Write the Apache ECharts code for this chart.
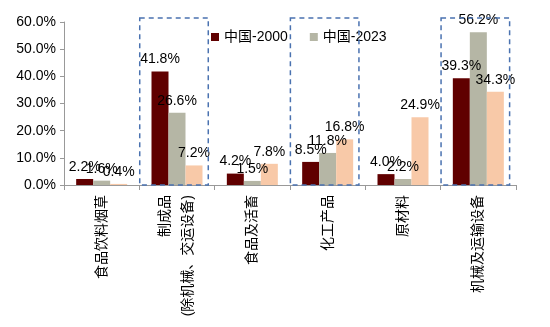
<!DOCTYPE html>
<html><head><meta charset="utf-8">
<script src="https://cdn.jsdelivr.net/npm/echarts@6/dist/echarts.min.js"></script>
<style>html,body{margin:0;padding:0;background:#fff}#c{width:550px;height:327px}</style>
</head><body><div id="c"></div>
<script>
const categories = ['食品饮料烟草', '制成品\n(除机械、交运设备)', '食品及活畜', '化工产品', '原材料', '机械及运输设备'];
const china2000 = [2.2, 41.8, 4.2, 8.5, 4.0, 39.3];
const china2023 = [1.6, 26.6, 1.5, 11.8, 2.2, 56.2];
const third = [0.4, 7.2, 7.8, 16.8, 24.9, 34.3];
const yTicks = [0, 10, 20, 30, 40, 50, 60];
const highlighted = [1, 3, 5];

const FONT = 'Liberation Sans, Arial, Noto Sans CJK SC, sans-serif';
const chart = echarts.init(document.getElementById('c'));
const lbl = {show: true, position: 'top', distance: 5, color: '#000', fontSize: 14, fontFamily: FONT,
  formatter: p => p.value.toFixed(1) + '%'};
chart.setOption({
  animation: false,
  textStyle: {fontFamily: FONT},
  grid: {left: 64, right: 34, top: 22, bottom: 142},
  legend: {
    data: ['中国-2000', '中国-2023'], left: 206, top: 25, icon: 'rect', itemWidth: 8, itemHeight: 8,
    itemGap: 22, textStyle: {fontSize: 14, color: '#000', fontFamily: FONT}
  },
  xAxis: {
    type: 'category', data: categories,
    axisLine: {lineStyle: {color: '#999'}},
    axisTick: {show: true, length: 5, lineStyle: {color: '#999'}},
    axisLabel: {rotate: 90, color: '#000', fontSize: 14, margin: 10, lineHeight: 23, fontFamily: FONT}
  },
  yAxis: {
    type: 'value', min: yTicks[0], max: yTicks[yTicks.length - 1], interval: 10,
    axisLine: {show: true, lineStyle: {color: '#999'}},
    axisTick: {show: true, length: 4, lineStyle: {color: '#999'}},
    splitLine: {show: false},
    axisLabel: {color: '#000', fontSize: 14, margin: 8, formatter: v => v.toFixed(1) + '%'}
  },
  series: [
    {name: '中国-2000', type: 'bar', data: china2000, itemStyle: {color: '#600000'}, barWidth: 17, barGap: '0%', label: lbl},
    {name: '中国-2023', type: 'bar', data: china2023, itemStyle: {color: '#b5b6a5'}, barWidth: 17, barGap: '0%', label: lbl},
    {name: '其他', type: 'bar', data: third, itemStyle: {color: '#f8c9a8'}, barWidth: 17, barGap: '0%', label: lbl}
  ]
});

function drawBoxes() {
  const els = highlighted.map(i => {
    const cx = chart.convertToPixel({xAxisIndex: 0}, i);
    const next = chart.convertToPixel({xAxisIndex: 0}, i === 0 ? 1 : i - 1);
    const band = Math.abs(next - cx);
    const yTop = chart.convertToPixel({yAxisIndex: 0}, 61.5);
    const yBot = chart.convertToPixel({yAxisIndex: 0}, 0);
    const w = band * 0.91;
    return {type: 'rect', shape: {x: cx - w / 2 - 3, y: yTop, width: w, height: yBot - yTop},
      style: {fill: 'none', stroke: '#4a72b0', lineWidth: 1.5, lineDash: [5, 4]}, z: 100};
  });
  chart.setOption({graphic: els});
}
drawBoxes();
</script></body></html>
